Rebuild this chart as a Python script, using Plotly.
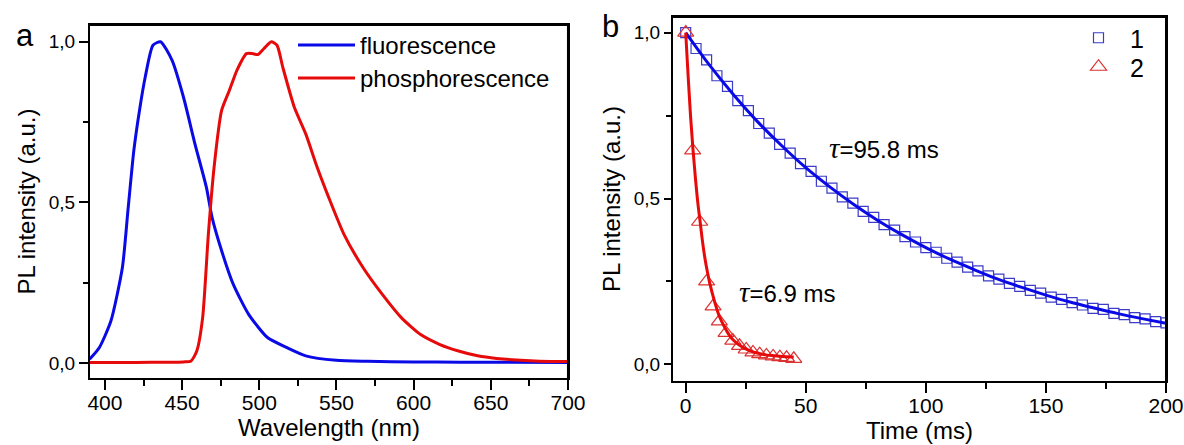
import plotly.graph_objects as go

# ---------------- Panel a: spectra ----------------
fl_wl = [390, 396.4, 403.9, 411.3, 415.0, 418.7, 422.5, 426.1, 431.1, 436.0, 443.5, 450.9,
         458.3, 465.7, 469.4, 475.6, 483.1, 493.0, 505.3, 517.7, 530.1, 549.9, 570, 600,
         630, 660, 700]
fl_int = [0.011, 0.048, 0.131, 0.297, 0.480, 0.661, 0.790, 0.890, 0.989, 1.000, 0.942,
          0.827, 0.682, 0.547, 0.453, 0.349, 0.245, 0.152, 0.079, 0.048, 0.022, 0.008,
          0.005, 0.003, 0.002, 0.002, 0.001]

ph_wl = [390, 410, 430, 450.9, 455.8, 459.5, 463.3, 467.0, 470.7, 475.6, 480.6, 485.5, 491.7,
         495.4, 499.1, 502.9, 507.8, 511.5, 515.2, 522.7, 530.1, 537.5, 544.9, 554.8, 567.2,
         579.6, 592.0, 604.3, 616.7, 629.1, 641.5, 653.8, 678.6, 700]
ph_int = [0.001, 0.001, 0.002, 0.003, 0.006, 0.037, 0.141, 0.401, 0.609, 0.786, 0.848, 0.911,
          0.963, 0.963, 0.960, 0.978, 1.000, 0.989, 0.921, 0.796, 0.713, 0.609, 0.516, 0.401,
          0.297, 0.214, 0.141, 0.089, 0.058, 0.037, 0.022, 0.014, 0.006, 0.004]

# ---------------- Panel b: decays ----------------
t1 = [0, 4.3, 8.7, 13.0, 17.4, 21.7, 26.1, 30.4, 34.8, 39.1, 43.5, 47.8, 52.2, 56.5, 60.9,
      65.2, 69.6, 73.9, 78.3, 82.6, 87.0, 91.3, 95.7, 100.0, 104.3, 108.7, 113.0, 117.4,
      121.7, 126.1, 130.4, 134.8, 139.1, 143.5, 147.8, 152.2, 156.5, 160.9, 165.2, 169.6,
      173.9, 178.3, 182.6, 187.0, 191.3, 195.7, 200.0]
i1 = [1.000, 0.952, 0.918, 0.870, 0.838, 0.795, 0.765, 0.726, 0.697, 0.663, 0.637, 0.605,
      0.582, 0.552, 0.531, 0.505, 0.486, 0.461, 0.443, 0.421, 0.405, 0.385, 0.369, 0.352,
      0.338, 0.320, 0.308, 0.293, 0.282, 0.267, 0.257, 0.244, 0.235, 0.223, 0.215, 0.203,
      0.196, 0.186, 0.179, 0.169, 0.166, 0.154, 0.150, 0.141, 0.137, 0.129, 0.125]

fit1_t = [0, 10, 20, 30, 40, 50, 60, 70, 80, 90, 100, 110, 120, 130, 140, 150, 160, 170,
          180, 190, 200]
fit1_i = [1.000, 0.901, 0.812, 0.731, 0.659, 0.593, 0.535, 0.482, 0.434, 0.391, 0.352,
          0.317, 0.286, 0.257, 0.232, 0.209, 0.188, 0.170, 0.153, 0.138, 0.124]

t2 = [0, 2.9, 5.8, 8.7, 11.4, 14.0, 16.8, 19.6, 22.4, 25.2, 28.0, 30.8, 33.6, 36.4, 39.2,
      42.0, 45.0]
i2 = [1.000, 0.645, 0.430, 0.250, 0.175, 0.130, 0.095, 0.072, 0.056, 0.045, 0.036, 0.031,
      0.027, 0.024, 0.022, 0.020, 0.017]

fit2_t = [0, 1, 2, 3, 4, 5, 6, 7, 8, 9, 10, 12, 14, 16, 18, 20, 22, 25, 28, 31, 34, 37,
          40, 43, 45]
fit2_i = [1.000, 0.870, 0.750, 0.650, 0.565, 0.490, 0.430, 0.370, 0.320, 0.280, 0.245,
          0.190, 0.145, 0.115, 0.090, 0.072, 0.060, 0.047, 0.038, 0.032, 0.028, 0.026,
          0.024, 0.023, 0.022]

BLUE = "#0a0ae6"
RED = "#e60a0a"
FONT = "Liberation Sans, Arial, sans-serif"

fig = go.Figure()

fig.add_trace(go.Scatter(x=fl_wl, y=fl_int, mode="lines", name="fluorescence",
                         line=dict(color=BLUE, width=3, shape="spline", smoothing=0.6),
                         xaxis="x", yaxis="y", legend="legend"))
fig.add_trace(go.Scatter(x=ph_wl, y=ph_int, mode="lines", name="phosphorescence",
                         line=dict(color=RED, width=3, shape="spline", smoothing=0.6),
                         xaxis="x", yaxis="y", legend="legend2"))

fig.add_trace(go.Scatter(x=t1, y=i1, mode="markers", name="1",
                         marker=dict(symbol="square-open", size=10, color="#3c3cc8",
                                     line=dict(width=1.2, color="#3c3cc8")),
                         xaxis="x2", yaxis="y2", legend="legend3"))
fig.add_trace(go.Scatter(x=t2, y=i2, mode="markers", name="2",
                         marker=dict(symbol="triangle-up-open", size=14, color="#dc3232",
                                     line=dict(width=1.2, color="#dc3232")),
                         xaxis="x2", yaxis="y2", legend="legend4"))
fig.add_trace(go.Scatter(x=fit1_t, y=fit1_i, mode="lines", showlegend=False,
                         line=dict(color=BLUE, width=3, shape="spline"),
                         xaxis="x2", yaxis="y2"))
fig.add_trace(go.Scatter(x=fit2_t, y=fit2_i, mode="lines", showlegend=False,
                         line=dict(color=RED, width=3, shape="spline"),
                         xaxis="x2", yaxis="y2"))

axis_common = dict(showgrid=False, zeroline=False, showline=True, linecolor="black",
                   linewidth=2, mirror=True, ticks="outside", tickcolor="black",
                   tickwidth=1.6)

leg_a = dict(xanchor="left", yanchor="top", bgcolor="rgba(0,0,0,0)",
             font=dict(size=24), itemwidth=57)
leg_b = dict(xanchor="left", yanchor="top", bgcolor="rgba(0,0,0,0)",
             font=dict(size=25), itemwidth=53)

fig.update_layout(
    width=1184, height=445, autosize=False,
    margin=dict(l=0, r=0, t=0, b=0, autoexpand=False),
    paper_bgcolor="white", plot_bgcolor="white",
    separators=",.",
    font=dict(family=FONT, color="black"),
    xaxis=dict(domain=[0.0760, 0.4797], range=[390.3, 700], dtick=50, tick0=400,
               ticklen=10, tickfont=dict(size=21), ticklabelstandoff=-5,
               minor=dict(dtick=25, tick0=400, ticks="outside", ticklen=6, tickwidth=1.6,
                          tickcolor="black"),
               title=dict(text="Wavelength (nm)", font=dict(size=24), standoff=5),
               anchor="y", **axis_common),
    yaxis=dict(domain=[0.1506, 0.9438], range=[-0.047, 1.052], dtick=0.5, tick0=0,
               tickformat=".1f", ticklen=9, tickfont=dict(size=19),
               minor=dict(dtick=0.25, tick0=0, ticks="outside", ticklen=5, tickwidth=1.6,
                          tickcolor="black"),
               title=dict(text="PL intensity (a.u.)", font=dict(size=24), standoff=6),
               anchor="x", **axis_common),
    xaxis2=dict(domain=[0.5684, 0.9848], range=[-5.3, 200], dtick=50, tick0=0,
                ticklen=10, tickfont=dict(size=21), ticklabelstandoff=-5,
                minor=dict(dtick=25, tick0=0, ticks="outside", ticklen=6, tickwidth=1.6,
                           tickcolor="black"),
                title=dict(text="Time (ms)", font=dict(size=24), standoff=5),
                anchor="y2", **axis_common),
    yaxis2=dict(domain=[0.1438, 0.9618], range=[-0.05, 1.047], dtick=0.5, tick0=0,
                tickformat=".1f", ticklen=7, tickfont=dict(size=19),
                minor=dict(dtick=0.25, tick0=0, ticks="outside", ticklen=5, tickwidth=1.6,
                           tickcolor="black"),
                title=dict(text="PL intensity (a.u.)", font=dict(size=24), standoff=6),
                anchor="x2", **axis_common),
    legend=dict(x=293 / 1184, y=(445 - 23) / 445, **leg_a),
    legend2=dict(x=293 / 1184, y=(445 - 56) / 445, **leg_a),
    legend3=dict(x=1067 / 1184, y=(445 - 15) / 445, **leg_b),
    legend4=dict(x=1067 / 1184, y=(445 - 44) / 445, **leg_b),
    showlegend=True,
)

# top and right sides of each panel frame, in axis-domain units
for xr, yr in (("x domain", "y domain"), ("x2 domain", "y2 domain")):
    fig.add_shape(type="line", xref=xr, yref=yr, x0=0, x1=1, y0=1, y1=1,
                  line=dict(color="black", width=2), layer="above")
    fig.add_shape(type="line", xref=xr, yref=yr, x0=1, x1=1, y0=0, y1=1,
                  line=dict(color="black", width=2), layer="above")

TAU = '<span style="font-family:Liberation Serif;font-size:29px"><i>τ</i></span>'
fig.add_annotation(x=59.0, y=0.651, xref="x2", yref="y2", xanchor="left", yanchor="middle",
                   text=TAU + "=95.8 ms", showarrow=False, font=dict(size=24))
fig.add_annotation(x=21.5, y=0.218, xref="x2", yref="y2", xanchor="left", yanchor="middle",
                   text=TAU + "=6.9 ms", showarrow=False, font=dict(size=24))

fig.add_annotation(x=25 / 1184, y=(445 - 36) / 445, xref="paper", yref="paper",
                   text="a", showarrow=False, font=dict(size=31),
                   xanchor="center", yanchor="middle")
fig.add_annotation(x=610 / 1184, y=(445 - 26) / 445, xref="paper", yref="paper",
                   text="b", showarrow=False, font=dict(size=31),
                   xanchor="center", yanchor="middle")

fig.write_html("out.html",
               config={"responsive": False, "displayModeBar": False},
               post_script="document.body.style.margin='0';"
                           "document.body.style.overflow='hidden';")
